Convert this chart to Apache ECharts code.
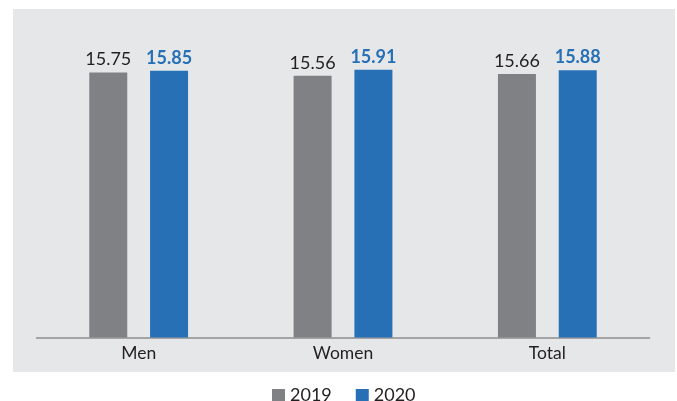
<!DOCTYPE html>
<html>
<head>
<meta charset="utf-8">
<script src="https://cdn.jsdelivr.net/npm/echarts@6/dist/echarts.min.js"></script>
<style>
  html, body { margin: 0; padding: 0; background: #ffffff; }
  #chart { width: 677px; height: 401px; }
</style>
</head>
<body>
<div id="chart"></div>
<script>
// Average values by group, two years side by side
const categories = ['Men', 'Women', 'Total'];
const years = ['2019', '2020'];
const values2019 = [15.75, 15.56, 15.66];
const values2020 = [15.85, 15.91, 15.88];

const GRAY = '#808184';
const BLUE = '#2770b6';
const FONT = 'Lato, "Open Sans", sans-serif';

const chart = echarts.init(document.getElementById('chart'), null, { renderer: 'canvas' });

chart.setOption({
  animation: false,
  textStyle: { fontFamily: FONT },
  graphic: [{
    type: 'rect',
    z: -10,
    silent: true,
    shape: { x: 13, y: 9, width: 662, height: 363 },
    style: { fill: '#e6e7e9' }
  }],
  grid: { left: 36.5, right: 27.5, top: 1, bottom: 63.5, containLabel: false },
  legend: {
    data: years,
    left: 267,
    top: 381,
    itemWidth: 13,
    itemHeight: 12,
    itemGap: 24,
    icon: 'rect',
    textStyle: { fontSize: 18, color: '#231f20', fontFamily: FONT }
  },
  xAxis: {
    type: 'category',
    data: categories,
    axisTick: { show: false },
    axisLine: { lineStyle: { color: '#8e8e8e', width: 1.5 } },
    axisLabel: { fontSize: 17.5, color: '#231f20', margin: 7, fontFamily: FONT }
  },
  yAxis: {
    type: 'value',
    min: 0,
    max: 20,
    show: false,
    splitLine: { show: false }
  },
  series: [
    {
      name: years[0],
      type: 'bar',
      data: values2019,
      barWidth: 38,
      barGap: '60%',
      itemStyle: { color: GRAY },
      label: {
        show: true,
        position: 'top',
        distance: 4,
        fontSize: 18,
        color: '#231f20',
        fontFamily: FONT,
        formatter: p => p.value.toFixed(2)
      }
    },
    {
      name: years[1],
      type: 'bar',
      data: values2020,
      barWidth: 38,
      itemStyle: { color: BLUE },
      label: {
        show: true,
        position: 'top',
        distance: 4,
        fontSize: 18,
        fontWeight: 'bold',
        color: BLUE,
        fontFamily: FONT,
        formatter: p => p.value.toFixed(2)
      }
    }
  ]
});
</script>
</body>
</html>
